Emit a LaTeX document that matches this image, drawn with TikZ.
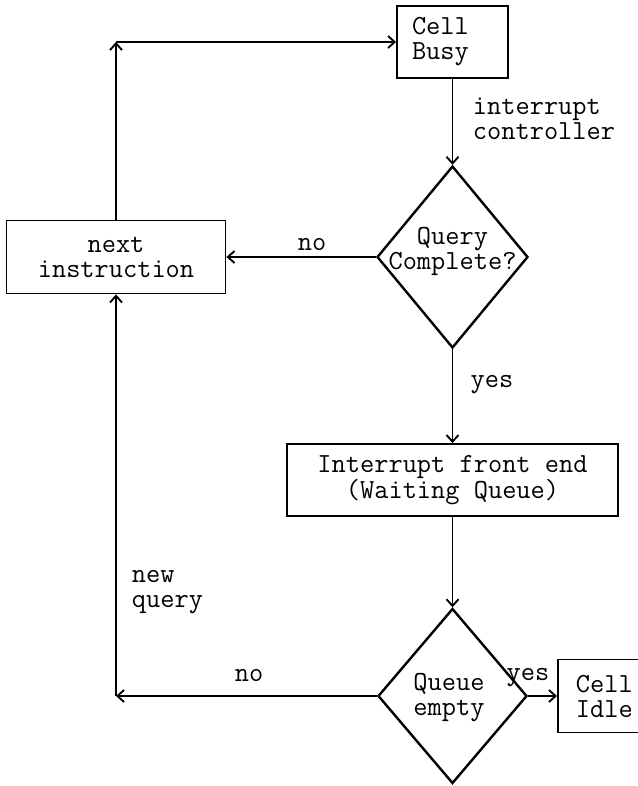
\documentclass[tikz,border=0pt]{standalone}
\usepackage{fontspec}
\usetikzlibrary{shapes.geometric,arrows.meta}

\tikzset{every picture/.style={line width=1.4pt}}
\tikzset{>={Straight Barb[length=5pt,width=9pt]},
  box/.style={draw,rectangle,align=center,inner sep=0pt},
  decision/.style={draw,diamond,line width=1.8pt,inner sep=0pt},
  lbl/.style={inner sep=0pt,align=left}}

\begin{document}
\begin{tikzpicture}[x=0.75pt,y=0.75pt,yscale=-1,xscale=1,font=\ttfamily\fontsize{20.7}{18.75}\selectfont]
\useasboundingbox (0,0) rectangle (637,786);

%Shape: Rectangle [id:busy]
\node [box,align=left,text width=60.75pt,minimum height=54pt,inner xsep=11.25pt] (busy) at (452.5,42) {Cell\\Busy};
%Shape: Diamond [id:query]
\node [decision,minimum width=113.25pt,minimum height=136.5pt] (query) at (452.5,257) {};
%Shape: Rectangle [id:next]
\node [box,minimum width=164.25pt,minimum height=54.75pt] (next) at (116,257) {next\\instruction};
%Shape: Rectangle [id:front]
\node [box,minimum width=248.25pt,minimum height=54pt] (front) at (452.5,480) {Interrupt front end\\(Waiting Queue)};
%Shape: Diamond [id:queue]
\node [decision,minimum width=111.75pt,minimum height=131.25pt] (queue) at (452.5,696) {};
%Shape: Rectangle [id:idle]
\node [box,anchor=west,align=left,text width=43.5pt,minimum height=54.75pt,inner xsep=13.5pt] (idle) at (557,696) {Cell\\Idle};

% Text Node
\node [lbl,align=center] (querytxt) at (452.5,251) {Query\\Complete?};
% Text Node
\node [lbl,align=center] (queuetxt) at (449,698) {Queue\\empty};

%Straight Lines
\coordinate (tl) at (next.north |- busy.west);
\coordinate (bl) at (next.south |- queue.west);
\draw [->] (next) -- (tl);
\draw [->] (tl) -- (busy);
\draw [->] (busy) -- (query);
\draw [->] (query) -- (next);
\draw [->] (query) -- (front);
\draw [->] (front) -- (queue);
\draw [->] (queue) -- (bl);
\draw [->] (bl) -- (next);
\draw [->] (queue) -- (idle);

% Text Node
\node [lbl,anchor=west] (intlbl) at (472,119) {interrupt\\controller};
% Text Node
\node [lbl] (nolbl) at (312,245) {no};
% Text Node
\node [lbl] (yeslbl) at (492,385) {yes};
% Text Node
\node [lbl,anchor=west] (newlbl) at (131,592) {new\\query};
% Text Node
\node [lbl] (nolbl2) at (249,676) {no};
% Text Node
\node [lbl] (yeslbl2) at (528,678) {yes};

\end{tikzpicture}
\end{document}
